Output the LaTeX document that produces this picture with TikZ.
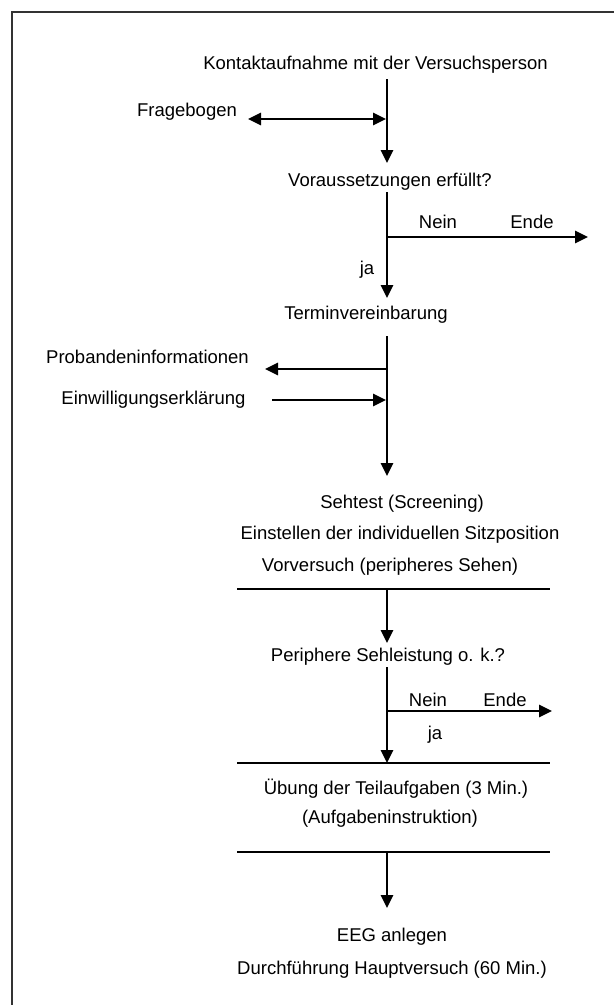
\documentclass[tikz,border=0pt]{standalone}
\usepackage{fontspec}
\setmainfont{Liberation Sans}
\usetikzlibrary{arrows.meta}
\begin{document}
\begin{tikzpicture}[x=1pt,y=-1pt,
  lbl/.style={anchor=base,inner sep=0pt,font=\fontsize{18.5}{22}\selectfont},
  arr/.style={line width=2.8pt,-{Triangle[length=13pt,width=12pt]}},
  darr/.style={line width=2.8pt,{Triangle[length=13pt,width=12pt]}-{Triangle[length=13pt,width=12pt]}},
  sepline/.style={line width=1.6pt},
  frameline/.style={line width=1.5pt,draw=black!80}]
\useasboundingbox (0,0) rectangle (614,1005);
\coordinate (fr1) at (12,1005);
\coordinate (fr2) at (12,12);
\coordinate (fr3) at (614,12);
\draw[frameline] (fr1) -- (fr2) -- (fr3);

% texts
\node[lbl] (kontakt) at (375.5,69) {Kontaktaufnahme mit der Versuchsperson};
\node[lbl] (frage) at (187,116) {Fragebogen};
\node[lbl] (vor) at (390,186) {Voraussetzungen erfüllt?};
\node[lbl] (nein1) at (438,228) {Nein};
\node[lbl] (ende1) at (532,228) {Ende};
\node[lbl] (ja1) at (367,274) {ja};
\node[lbl] (termin) at (366,319) {Terminvereinbarung};
\node[lbl] (prob) at (147.5,363) {Probandeninformationen};
\node[lbl] (einw) at (153.5,404) {Einwilligungserklärung};
\node[lbl] (seh) at (402,508) {Sehtest (Screening)};
\node[lbl] (einst) at (400,539) {Einstellen der individuellen Sitzposition};
\node[lbl] (vorv) at (390,571) {Vorversuch (peripheres Sehen)};
\node[lbl] (peri) at (388,661) {Periphere Sehleistung o. k.?};
\node[lbl] (nein2) at (428,706) {Nein};
\node[lbl] (ende2) at (505,706) {Ende};
\node[lbl] (ja2) at (435,739) {ja};
\node[lbl] (ueb) at (396,794) {Übung der Teilaufgaben (3 Min.)};
\node[lbl] (aufg) at (390,823) {(Aufgabeninstruktion)};
\node[lbl] (eeg) at (392,941) {EEG anlegen};
\node[lbl] (durch) at (392,974) {Durchführung Hauptversuch (60 Min.)};

% connector end points
\coordinate (k1) at (387,79);
\coordinate (k2) at (387,163);
\coordinate (fa) at (248,119);
\coordinate (fb) at (386,119);
\coordinate (v1) at (387,192);
\coordinate (v2) at (387,298);
\coordinate (n1a) at (387,237);
\coordinate (n1b) at (588,237);
\coordinate (t1) at (387,336);
\coordinate (t2) at (387,476);
\coordinate (pa) at (386,369);
\coordinate (pb) at (265,369);
\coordinate (ea) at (272,400);
\coordinate (eb) at (386,400);
\coordinate (s1a) at (237,589);
\coordinate (s1b) at (550,589);
\coordinate (s1c) at (387,589);
\coordinate (p2) at (387,643);
\coordinate (q1) at (387,667);
\coordinate (q2) at (387,763);
\coordinate (n2a) at (387,711);
\coordinate (n2b) at (552,711);
\coordinate (s2a) at (237,763);
\coordinate (s2b) at (550,763);
\coordinate (s3a) at (237,852);
\coordinate (s3b) at (550,852);
\coordinate (s3c) at (387,852);
\coordinate (g2) at (387,908);

\draw[arr] (k1) -- (k2);
\draw[darr] (fa) -- (fb);
\draw[arr] (v1) -- (v2);
\draw[arr] (n1a) -- (n1b);
\draw[arr] (t1) -- (t2);
\draw[arr] (pa) -- (pb);
\draw[arr] (ea) -- (eb);
\draw[sepline] (s1a) -- (s1b);
\draw[arr] (s1c) -- (p2);
\draw[arr] (q1) -- (q2);
\draw[arr] (n2a) -- (n2b);
\draw[sepline] (s2a) -- (s2b);
\draw[sepline] (s3a) -- (s3b);
\draw[arr] (s3c) -- (g2);
\end{tikzpicture}
\end{document}
